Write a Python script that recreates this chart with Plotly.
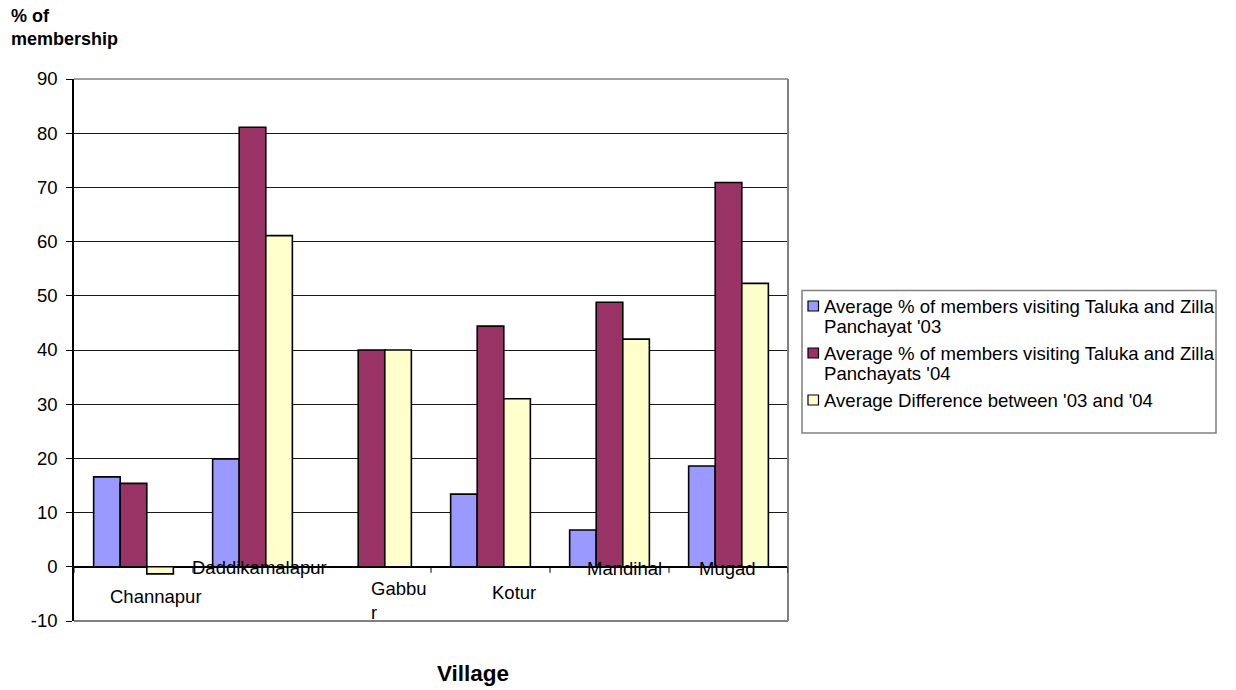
import plotly.graph_objects as go

# Villages and survey values (% of membership)
villages = ["Channapur", "Daddikamalapur", "Gabbur", "Kotur", "Mandihal", "Mugad"]
visits_03 = [16.6, 19.9, 0.0, 13.4, 6.8, 18.6]
visits_04 = [15.4, 81.1, 40.0, 44.4, 48.8, 70.9]
difference = [-1.3, 61.1, 40.0, 31.0, 42.0, 52.3]

series_names = [
    "Average % of members visiting Taluka and Zilla\nPanchayat '03",
    "Average % of members visiting Taluka and Zilla\nPanchayats '04",
    "Average Difference between '03 and '04",
]
series_values = [visits_03, visits_04, difference]
series_colors = ["#9999FF", "#993366", "#FFFFCC"]

y_ticks = list(range(-10, 100, 10))
y_tick_text = [str(v) for v in y_ticks]  # plain hyphen for negatives

FONT = "Arial, Liberation Sans, sans-serif"
W_FIG, H_FIG = 1236, 690
L, R, T, B = 74, 788, 79, 621


def px(x):
    return (x - L) / (R - L)


def py(y):
    return (B - y) / (B - T)


fig = go.Figure()
for name, vals, col in zip(series_names, series_values, series_colors):
    fig.add_trace(go.Bar(
        x=villages, y=vals, name=name.replace("\n", " "),
        marker=dict(color=col, line=dict(color="black", width=1.6)),
        showlegend=False,
    ))

shapes = []
# plot frame: grey top, right and bottom edges
shapes.append(dict(type="line", xref="paper", yref="paper", x0=0, x1=1, y0=1, y1=1,
                   line=dict(color="#808080", width=1.5)))
shapes.append(dict(type="line", xref="paper", yref="paper", x0=0, x1=1, y0=0, y1=0,
                   line=dict(color="#808080", width=2)))
shapes.append(dict(type="line", xref="paper", yref="paper", x0=1, x1=1, y0=0, y1=1,
                   line=dict(color="#808080", width=2)))
# category separator ticks hanging below the zero line
for k in range(len(villages) + 1):
    shapes.append(dict(type="line", xref="x", yref="y", x0=k - 0.5, x1=k - 0.5,
                       ysizemode="pixel", yanchor=0, y0=0, y1=-6,
                       line=dict(color="black", width=1)))

annotations = []
# category labels, staggered as in the original layout
label_dx = [22, 7, -3, 23.5, 15, -1.5]
label_y = [596, 567, 600.5, 592, 568, 568]
for i, v in enumerate(villages):
    text = v
    anchor = "center"
    if v == "Gabbur":
        text = "Gabbu<br>r"
        anchor = "left"
    annotations.append(dict(x=v, xref="x", y=py(label_y[i]), yref="paper",
                            text=text, showarrow=False, xanchor=anchor, yanchor="middle",
                            xshift=label_dx[i], align="left",
                            font=dict(family=FONT, size=18.5, color="black")))

# axis titles
annotations.append(dict(x=px(9), y=py(4), xref="paper", yref="paper",
                        text="<b>% of<br>membership</b>", showarrow=False,
                        xanchor="left", yanchor="top", align="left",
                        font=dict(family=FONT, size=18, color="black")))
annotations.append(dict(x=px(472.5), y=py(673), xref="paper", yref="paper",
                        text="<b>Village</b>", showarrow=False,
                        xanchor="center", yanchor="middle",
                        font=dict(family=FONT, size=22.5, color="black")))

# legend box
shapes.append(dict(type="rect", xref="paper", yref="paper",
                   x0=px(802), x1=px(1216), y0=py(433), y1=py(290.5),
                   line=dict(color="#808080", width=1.5), fillcolor="white"))
item_top = [306, 353, 400]
for name, col, yc in zip(series_names, series_colors, item_top):
    shapes.append(dict(type="rect", xref="paper", yref="paper",
                       x0=px(808), x1=px(818.5), y0=py(yc + 5), y1=py(yc - 5),
                       line=dict(color="black", width=1.2), fillcolor=col))
    for j, line in enumerate(name.split("\n")):
        annotations.append(dict(x=px(822), y=py(yc + 20 * j), xref="paper", yref="paper",
                                text=line, showarrow=False, xanchor="left", yanchor="middle",
                                font=dict(family=FONT, size=18.6, color="black")))

fig.update_layout(
    width=W_FIG, height=H_FIG,
    margin=dict(l=L, r=W_FIG - R, t=T, b=H_FIG - B),
    paper_bgcolor="white", plot_bgcolor="white",
    barmode="group", bargap=0.33, bargroupgap=0,
    font=dict(family=FONT, size=18, color="black"),
    showlegend=False,
    shapes=shapes, annotations=annotations,
    xaxis=dict(type="category", range=[-0.5, len(villages) - 0.5],
               showticklabels=False, ticks="", showgrid=False,
               showline=False, zeroline=False, fixedrange=True),
    yaxis=dict(range=[-10, 90], tickvals=y_ticks, ticktext=y_tick_text,
               ticks="outside", ticklen=6,
               tickcolor="black", tickwidth=1, showline=True, linecolor="black",
               linewidth=1.5, showgrid=True, gridcolor="#1a1a1a", gridwidth=1,
               zeroline=True, zerolinecolor="black", zerolinewidth=1.5,
               ticklabelstandoff=5,
               tickfont=dict(family=FONT, size=18.5, color="black"), fixedrange=True),
)

fig.write_html("out.html")
